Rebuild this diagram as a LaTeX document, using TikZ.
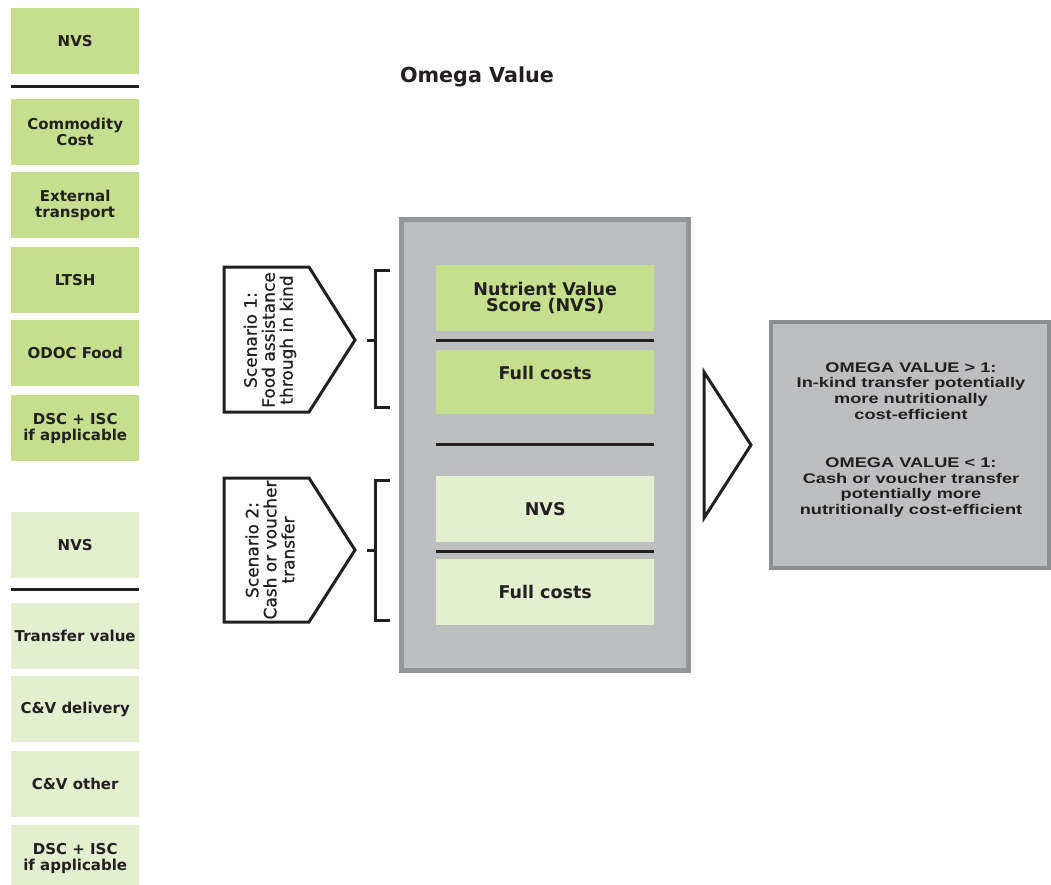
\documentclass[tikz,border=0pt]{standalone}
\usepackage{fontspec}
\setmainfont{DejaVu Sans}
\newfontfamily\omegafont[FakeStretch=1.3]{Liberation Sans}
\newfontfamily\scenfont[FakeBold=0.8]{DejaVu Sans}
\usetikzlibrary{positioning}
\definecolor{kindgreen}{HTML}{C5DF8E}
\definecolor{cashgreen}{HTML}{E3EFCF}
\definecolor{panelgray}{HTML}{BCBEC0}
\definecolor{rimgray}{HTML}{939598}
\definecolor{inkgray}{HTML}{231F20}
\tikzset{
  every node/.style={text=inkgray},
  cell/.style={minimum width=128pt, minimum height=66pt, inner sep=0pt,
    align=center, anchor=north west, font=\fontsize{15}{16}\selectfont\bfseries},
  inbox/.style={minimum width=218pt, minimum height=66pt, inner sep=0pt,
    align=center, anchor=north west, font=\fontsize{17.5}{16}\selectfont\bfseries},
  kind/.style={fill=kindgreen},
  cash/.style={fill=cashgreen},
  sepline/.style={line width=3pt, draw=inkgray},
  outline/.style={line width=3pt, line join=miter, draw=inkgray},
  scen/.style={rotate=90, align=center, font=\scenfont\fontsize{17}{18}\selectfont},
}

\begin{document}
\begin{tikzpicture}[x=1pt, y=-1pt]
  \useasboundingbox (0,0) rectangle (1051,885);

  %% left column, in kind
  \node[cell, kind] (nvsA) at (11,8) {NVS};
  \draw[sepline] ([yshift=-12pt]nvsA.south west) -- ([yshift=-12pt]nvsA.south east);
  \node[cell, kind] (commodity) at (11,99) {Commodity\\Cost};
  \node[cell, kind] (external) at (11,172) {External\\transport};
  \node[cell, kind] (ltsh) at (11,247) {LTSH};
  \node[cell, kind] (odoc) at (11,320) {ODOC Food};
  \node[cell, kind] (dscA) at (11,395) {DSC + ISC\\if applicable};

  %% left column, cash and voucher
  \node[cell, cash] (nvsB) at (11,512) {NVS};
  \draw[sepline] ([yshift=-11pt]nvsB.south west) -- ([yshift=-11pt]nvsB.south east);
  \node[cell, cash] (transfer) at (11,603) {Transfer value};
  \node[cell, cash] (delivery) at (11,676) {C\&V delivery};
  \node[cell, cash] (other) at (11,751) {C\&V other};
  \node[cell, cash] (dscB) at (11,825) {DSC + ISC\\if applicable};

  \node[font=\fontsize{20.7}{22}\selectfont\bfseries] (title) at (477,77) {Omega Value};

  %% central panel
  \draw[line width=5pt, draw=rimgray, fill=panelgray] (401.5,219.5) rectangle (688.5,670.5);
  \node[inbox, kind] (score) at (436,265) {Nutrient Value\\Score (NVS)};
  \draw[sepline] ([yshift=-9pt]score.south west) -- ([yshift=-9pt]score.south east);
  \node[inbox, kind, minimum height=64pt, text depth=18pt] (fullA) at (436,350) {Full costs};
  \draw[sepline] ([yshift=-30pt]fullA.south west) -- ([yshift=-30pt]fullA.south east);
  \node[inbox, cash] (nvsC) at (436,476) {NVS};
  \draw[sepline] ([yshift=-9pt]nvsC.south west) -- ([yshift=-9pt]nvsC.south east);
  \node[inbox, cash] (fullB) at (436,559) {Full costs};

  %% scenarios
  \draw[outline] (224,267) -- (309,267) -- (355,340) -- (309,412) -- (224,412) -- cycle;
  \node[scen] (scenA) at (270,340) {Scenario 1:\\Food assistance\\through in kind};
  \draw[outline] (390,270) -- (375,270) -- (375,407) -- (390,407);
  \draw[outline] (367,340) -- (375,340);

  \draw[outline] (224,478) -- (309,478) -- (355,550) -- (309,622) -- (224,622) -- cycle;
  \node[scen] (scenB) at (270,550) {Scenario 2:\\Cash or voucher\\transfer};
  \draw[outline] (390,480) -- (375,480) -- (375,620) -- (390,620);
  \draw[outline] (367,550) -- (375,550);

  %% result
  \draw[outline] (704,372) -- (751,445) -- (704,518) -- cycle;
  \draw[line width=4pt, draw=rimgray!95!black, fill=panelgray] (771,322) rectangle (1049,568);
  \node[align=center, font=\omegafont\fontsize{14}{15.8}\selectfont\bfseries] (result) at (911,440)
    {OMEGA VALUE > 1:\\In-kind transfer potentially\\more nutritionally\\cost-efficient\\[32pt]
     OMEGA VALUE < 1:\\Cash or voucher transfer\\potentially more\\nutritionally cost-efficient};
\end{tikzpicture}
\end{document}
